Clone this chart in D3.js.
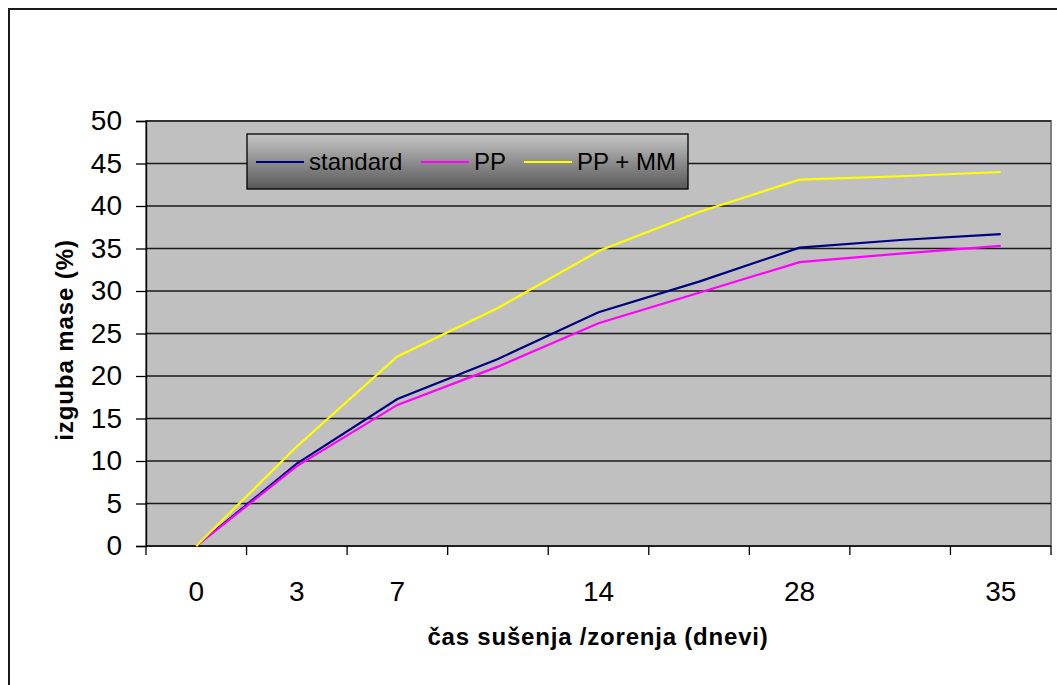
<!DOCTYPE html>
<html>
<head>
<meta charset="utf-8">
<script src="https://cdn.jsdelivr.net/npm/d3@7"></script>
<style>
  body { margin: 0; background: #fff; }
  svg { display: block; font-family: "Liberation Sans", Arial, sans-serif; }
</style>
</head>
<body>
<svg id="chart" width="1057" height="685"></svg>
<script>
// days of drying / ripening (only some categories are labelled)
const days = ['0', '3', '7', '', '14', '', '28', '', '35']
const standard = [0, 9.7, 17.3, 22.0, 27.5, 31.1, 35.1, 36.0, 36.7]
const pp = [0, 9.4, 16.6, 21.1, 26.2, 29.8, 33.4, 34.4, 35.3]
const ppMm = [0, 11.7, 22.3, 28.0, 34.7, 39.3, 43.1, 43.5, 44.0]
const yTicks = [0, 5, 10, 15, 20, 25, 30, 35, 40, 45, 50]

const seriesNames = ['standard', 'PP', 'PP + MM']
const seriesColors = ['#000080', '#ff00ff', '#ffff00']

const svg = d3.select('#chart')
const plot = { left: 146, right: 1051, top: 121, bottom: 546 }

// outer chart frame
svg.append('rect')
  .attr('x', 9).attr('y', 9)
  .attr('width', 1100).attr('height', 700)
  .attr('fill', 'none')
  .attr('stroke', '#1a1a1a')
  .attr('stroke-width', 2)

const x = d3.scaleBand()
  .domain(d3.range(days.length))
  .range([plot.left, plot.right])
  .padding(0)

const y = d3.scaleLinear()
  .domain([0, 50])
  .range([plot.bottom, plot.top])

// plot background
svg.append('rect')
  .attr('x', plot.left).attr('y', plot.top)
  .attr('width', plot.right - plot.left)
  .attr('height', plot.bottom - plot.top)
  .attr('fill', '#c0c0c0')
  .attr('stroke', '#808080')
  .attr('stroke-width', 2)

// gridlines
svg.append('g')
  .selectAll('line')
  .data(yTicks.filter(d => d > 0))
  .enter()
  .append('line')
  .attr('x1', plot.left).attr('x2', plot.right)
  .attr('y1', d => y(d)).attr('y2', d => y(d))
  .attr('stroke', '#1a1a1a')
  .attr('stroke-width', 1.3)

// y axis
const yAxis = svg.append('g')
  .attr('transform', `translate(${plot.left},0)`)
  .call(d3.axisLeft(y).tickValues(yTicks).tickSize(10).tickPadding(14))
yAxis.select('.domain').attr('stroke', '#000').attr('stroke-width', 1.3)
yAxis.selectAll('.tick line').attr('stroke', '#000').attr('stroke-width', 1.3)
yAxis.selectAll('text')
  .attr('font-size', 28)
  .attr('font-family', '"Liberation Sans", Arial, sans-serif')
  .attr('fill', '#000')

// x axis labels at category centres
const xAxis = svg.append('g')
  .attr('transform', `translate(0,${plot.bottom})`)
  .call(d3.axisBottom(x).tickSize(0).tickPadding(35).tickFormat(i => days[i]))
xAxis.select('.domain').remove()
xAxis.selectAll('text')
  .attr('font-size', 28)
  .attr('font-family', '"Liberation Sans", Arial, sans-serif')
  .attr('fill', '#000')

// x axis line and tick marks between categories
svg.append('line')
  .attr('x1', plot.left).attr('x2', plot.right)
  .attr('y1', plot.bottom).attr('y2', plot.bottom)
  .attr('stroke', '#000').attr('stroke-width', 1.3)

svg.append('g')
  .selectAll('line')
  .data(d3.range(days.length + 1))
  .enter()
  .append('line')
  .attr('x1', i => plot.left + i * x.step())
  .attr('x2', i => plot.left + i * x.step())
  .attr('y1', plot.bottom).attr('y2', plot.bottom + 9)
  .attr('stroke', '#000').attr('stroke-width', 1.3)

// series lines
const line = d3.line()
  .x((d, i) => x(i) + x.bandwidth() / 2)
  .y(d => y(d))

const allSeries = [standard, pp, ppMm]
svg.append('g')
  .selectAll('path')
  .data(allSeries)
  .enter()
  .append('path')
  .attr('d', d => line(d))
  .attr('fill', 'none')
  .attr('stroke', (d, i) => seriesColors[i])
  .attr('stroke-width', 2.2)

// axis titles
svg.append('text')
  .attr('transform', 'translate(73,340) rotate(-90)')
  .attr('text-anchor', 'middle')
  .attr('font-size', 24)
  .attr('font-weight', 'bold')
  .attr('letter-spacing', 0.9)
  .text('izguba mase (%)')

svg.append('text')
  .attr('x', 598)
  .attr('y', 645)
  .attr('text-anchor', 'middle')
  .attr('font-size', 24)
  .attr('font-weight', 'bold')
  .attr('letter-spacing', 0.8)
  .text('čas sušenja /zorenja (dnevi)')

// legend
const defs = svg.append('defs')
const grad = defs.append('linearGradient')
  .attr('id', 'legendGrad')
  .attr('x1', 0).attr('y1', 0).attr('x2', 0).attr('y2', 1)
grad.append('stop').attr('offset', '0%').attr('stop-color', '#c6c6c6')
grad.append('stop').attr('offset', '100%').attr('stop-color', '#585858')

const legend = svg.append('g').attr('transform', 'translate(247,134)')
legend.append('rect')
  .attr('width', 441).attr('height', 55)
  .attr('fill', 'url(#legendGrad)')
  .attr('stroke', '#000')
  .attr('stroke-width', 1.3)

const legendX = [9, 174, 277]
const item = legend.selectAll('.item')
  .data(seriesNames)
  .enter()
  .append('g')
  .attr('class', 'item')
  .attr('transform', (d, i) => `translate(${legendX[i]},0)`)

item.append('line')
  .attr('x1', 0).attr('x2', 48)
  .attr('y1', 28).attr('y2', 28)
  .attr('stroke', (d, i) => seriesColors[i])
  .attr('stroke-width', 2.2)

item.append('text')
  .attr('x', 53)
  .attr('y', 36)
  .attr('font-size', 24)
  .attr('fill', '#000')
  .text(d => d)
</script>
</body>
</html>
